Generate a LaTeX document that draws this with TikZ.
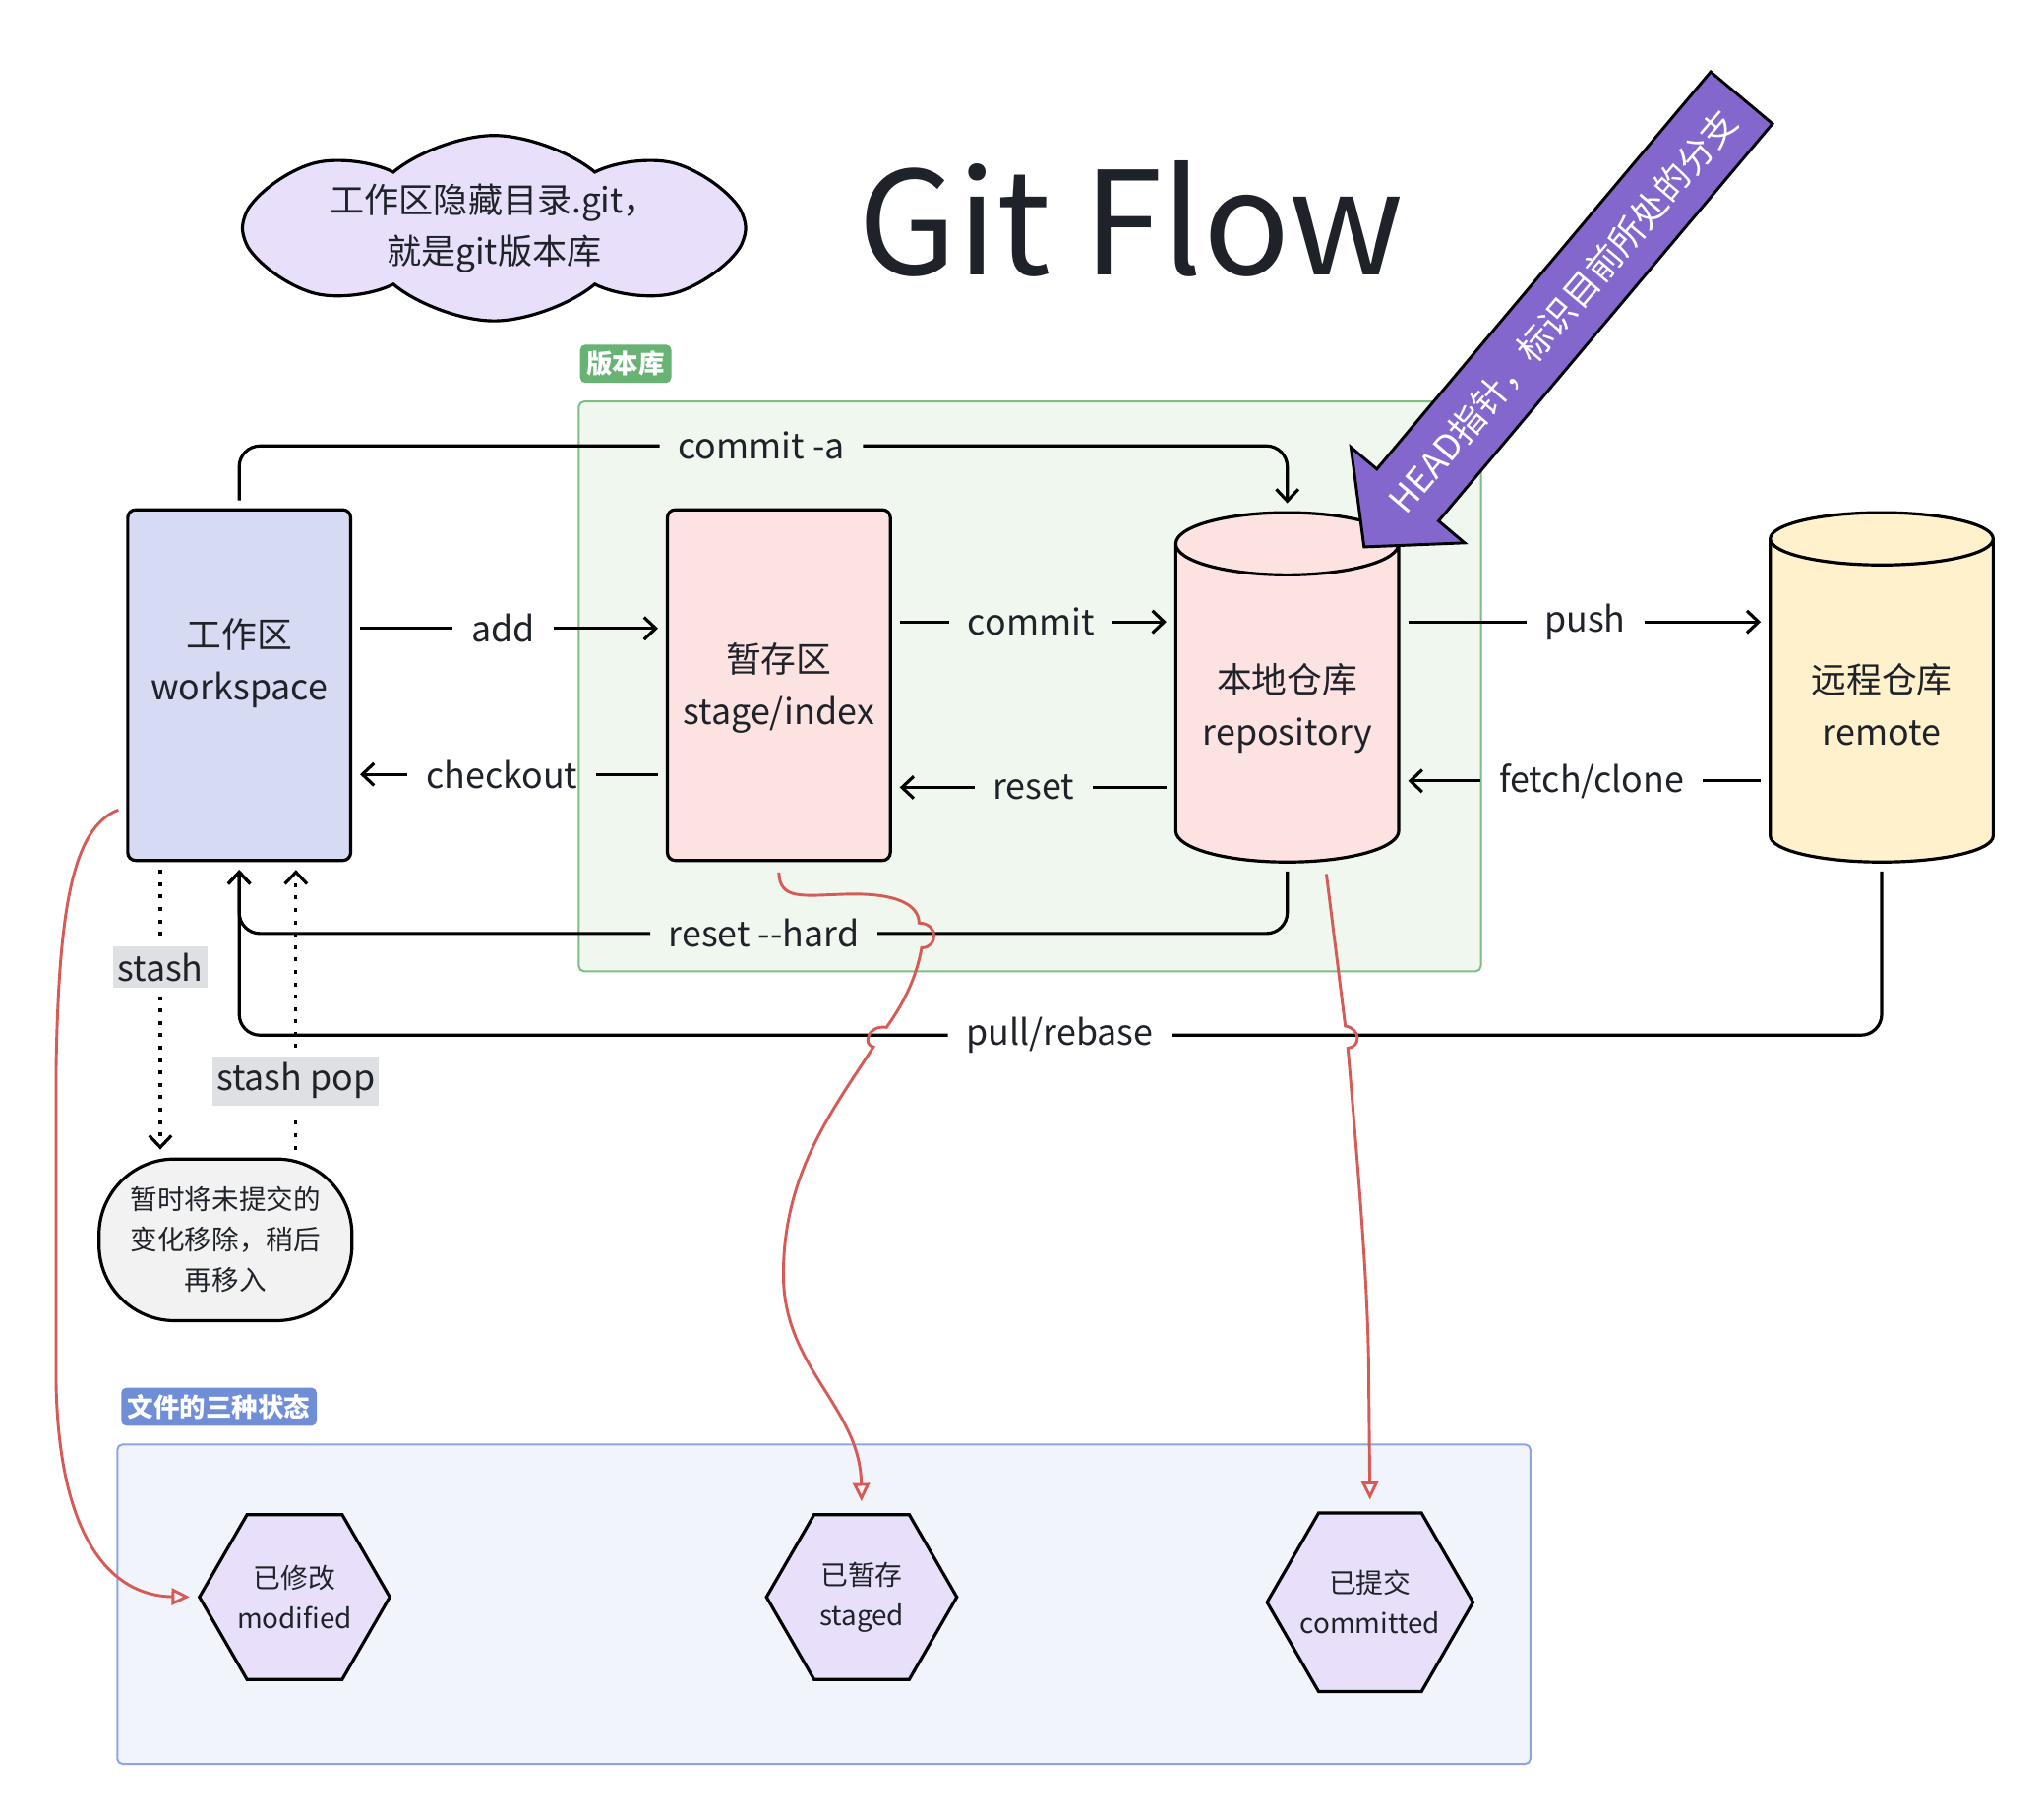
\documentclass[tikz,border=0pt]{standalone}
\usepackage{fontspec}
\setmainfont{Noto Sans CJK SC}
\usepackage{tikz}
\usetikzlibrary{positioning,calc,shapes.geometric,shapes.symbols,arrows.meta}
\definecolor{wsblue}{RGB}{214,219,243}
\definecolor{stagepink}{RGB}{253,226,226}
\definecolor{remoteyellow}{RGB}{255,241,204}
\definecolor{lav}{RGB}{232,224,250}
\definecolor{repogreen}{RGB}{240,247,238}
\definecolor{repoline}{RGB}{125,190,131}
\definecolor{taggreen}{RGB}{104,178,116}
\definecolor{statebg}{RGB}{241,244,251}
\definecolor{stateline}{RGB}{140,165,224}
\definecolor{tagblue}{RGB}{111,142,214}
\definecolor{notegray}{RGB}{242,242,242}
\definecolor{lblgray}{RGB}{223,224,227}
\definecolor{headpurple}{RGB}{131,103,204}
\definecolor{mapred}{RGB}{214,90,85}
\definecolor{inkgray}{RGB}{31,35,41}
\tikzset{
  box/.style = {rectangle, draw=black, line width=2.4pt, rounded corners=6pt,
    minimum width=171pt, minimum height=269pt, align=center,
    font=\fontsize{27}{40}\selectfont, text=inkgray},% werkbereich, stage
  cyl/.style = {cylinder, shape border rotate=90, aspect=0.35, draw=black,
    line width=2.4pt, minimum width=171pt, minimum height=268pt, align=center,
    anchor=north, font=\fontsize{27}{40}\selectfont, text=inkgray},% local, remote
  hexa/.style = {regular polygon, regular polygon sides=6, draw=black,
    line width=2.4pt, fill=lav, inner sep=-10pt, align=center,
    font=\fontsize{21}{31}\selectfont, text=inkgray},% file states
  stashnote/.style = {rectangle, rounded corners=58pt, draw=black, line width=2.4pt,
    fill=notegray, minimum width=194pt, minimum height=124pt, align=center,
    font=\fontsize{20.8}{31}\selectfont, text=inkgray},
  lbl/.style = {inner xsep=8pt, inner ysep=3pt, font=\fontsize{27}{30}\selectfont,
    text=inkgray},
  graylbl/.style = {lbl, fill=lblgray, inner xsep=3pt, inner ysep=5pt},
  tagbox/.style = {rounded corners=4pt, text=white, inner sep=5pt,
    font=\fontsize{20}{20}\selectfont\bfseries},
  flow/.style = {line width=2.4pt, shorten <=6pt, shorten >=6pt},
  stashline/.style = {flow, dash pattern=on 3pt off 6.5pt},
  mapline/.style = {mapred, line width=2.2pt, -{Triangle[open,length=14pt,width=13pt]}},
}

\begin{document}
\begin{tikzpicture}[x=1pt, y=-1pt, >={Straight Barb[length=9pt,width=17pt]}]
  \useasboundingbox (0,0) rectangle (1568,1391);
  \fill[white] (0,0) rectangle (1568,1391);
  % areas
  \draw[repoline, line width=1.5pt, fill=repogreen, rounded corners=4pt] (444,308) rectangle (1136,745);
  \draw[stateline, line width=1.5pt, fill=statebg, rounded corners=4pt] (90,1108) rectangle (1174,1353);
  \node[tagbox, fill=taggreen] (repotag) at (480,279) {版本库};
  \node[tagbox, fill=tagblue] (statetag) at (168,1079) {文件的三种状态};

  \node[text=inkgray, font=\fontsize{110}{110}\selectfont] (title) at (868,168) {Git Flow};
  \node[cloud, cloud puffs=8, cloud puff arc=80, aspect=4, draw=black, line width=2.4pt,
    fill=lav, inner sep=0pt, minimum width=386pt, align=center,
    font=\fontsize{26.5}{39}\selectfont, text=inkgray] (gitcloud) at (379,175)
    {工作区隐藏目录.git，\\就是git版本库};

  \node[box, fill=wsblue, text depth=40pt] (ws) at (183.5,525.5) {工作区\\workspace};
  \node[box, fill=stagepink, text depth=2pt] (stage) at (597.5,525.5) {暂存区\\stage/index};
  \node[cyl, fill=stagepink] (repo) at (987.5,392) {本地仓库\\repository};
  \node[cyl, fill=remoteyellow] (remote) at (1443.5,392) {远程仓库\\remote};
  \node[stashnote] (stash) at (173,951) {暂时将未提交的\\变化移除，稍后\\再移入};

  \foreach \nm/\x/\y/\sz/\txt in {modified/226/1225/146/{已修改\\modified},
      staged/661/1225/146/{已暂存\\staged}, committed/1051/1229/158/{已提交\\committed}}
    \node[hexa, minimum size=\sz pt] (\nm) at (\x,\y) {\txt};

  % labels
  \node[lbl] (commitalbl) at (584,342) {commit -a};
  \node[lbl] (addlbl) at (386,482) {add};
  \node[lbl] (checkoutlbl) at (385,594) {checkout};
  \node[lbl] (commitlbl) at (791,477) {commit};
  \node[lbl] (resetlbl) at (793,604) {reset};
  \node[lbl] (pushlbl) at (1216,477) {push};
  \node[lbl] (fetchlbl) at (1221,599) {fetch/clone};
  \node[lbl] (hardlbl) at (586,716) {reset -{}-hard};
  \node[lbl] (pulllbl) at (813,794) {pull/rebase};
  \node[graylbl] (stashlbl) at (123,742) {stash};
  \node[graylbl] (poplbl) at (227,829) {stash pop};

  % flows
  \draw[flow, rounded corners=16pt] (ws.north) |- (commitalbl.west);
  \draw[flow, ->, rounded corners=16pt] (commitalbl.east) -| (repo.north);
  \draw[flow] (ws.east |- addlbl) -- (addlbl.west);
  \draw[flow, ->] (addlbl.east) -- (stage.west |- addlbl);
  \draw[flow] (stage.west |- checkoutlbl) -- (checkoutlbl.east);
  \draw[flow, ->] (checkoutlbl.west) -- (ws.east |- checkoutlbl);
  \draw[flow] (stage.east |- commitlbl) -- (commitlbl.west);
  \draw[flow, ->] (commitlbl.east) -- (repo.west |- commitlbl);
  \draw[flow] (repo.west |- resetlbl) -- (resetlbl.east);
  \draw[flow, ->] (resetlbl.west) -- (stage.east |- resetlbl);
  \draw[flow] (repo.east |- pushlbl) -- (pushlbl.west);
  \draw[flow, ->] (pushlbl.east) -- (remote.west |- pushlbl);
  \draw[flow] (remote.west |- fetchlbl) -- (fetchlbl.east);
  \draw[flow, ->] (fetchlbl.west) -- (repo.east |- fetchlbl);
  \draw[flow, rounded corners=16pt] (repo.south) |- (hardlbl.east);
  \draw[flow, ->, rounded corners=16pt] (hardlbl.west) -| (ws.south);
  \draw[flow, rounded corners=16pt] (remote.south) |- (pulllbl.east);
  \draw[flow, ->, rounded corners=16pt] (pulllbl.west) -| (ws.south);
  \draw[stashline] (stashlbl |- ws.south) -- (stashlbl.north);
  \draw[stashline, ->] (stashlbl.south) -- (stashlbl |- stash.north);
  \draw[stashline] (poplbl |- stash.north) -- (poplbl.south);
  \draw[stashline, ->] (poplbl.north) -- (poplbl |- ws.south);

  % file states
  \draw[mapline, shorten >=6pt] ($(ws.south west)+(-6,-40)$) .. controls (55,635) and (45,700) .. (43,820)
    -- (43,1060) .. controls (45,1180) and (85,1224) .. (modified.west);
  \draw[mapline, shorten >=9pt] ($(stage.south)+(0,8)$) .. controls (598,690) and (615,687) .. (645,686)
    .. controls (690,684) and (705,695) .. (705,708) .. controls (720,708) and (720,727) .. (707,727)
    .. controls (703,750) and (693,770) .. (680,788) .. controls (665,786) and (662,802) .. (670,803)
    .. controls (640,850) and (600,900) .. (601,980) .. controls (602,1050) and (660,1080) .. (staged.north);
  \draw[mapline, shorten >=9pt] ($(repo.south)+(30,8)$) -- (1032,787) .. controls (1044,789) and (1044,803) .. (1034,804)
    .. controls (1042,900) and (1050,990) .. (1050,1060) -- (committed.north);

  % HEAD
  \draw[black, line width=2.2pt, fill=headpurple] (1312.3,55.1) -- (1359.7,94.9) -- (1103.6,399.6)
    -- (1123.5,416.4) -- (1046.4,419.5) -- (1036.3,343.0) -- (1056.2,359.8) -- cycle;
  \node[text=white, rotate=49.6, font=\fontsize{27}{27}\selectfont] (headtxt) at (1199,239) {HEAD指针，标识目前所处的分支};
\end{tikzpicture}
\end{document}
